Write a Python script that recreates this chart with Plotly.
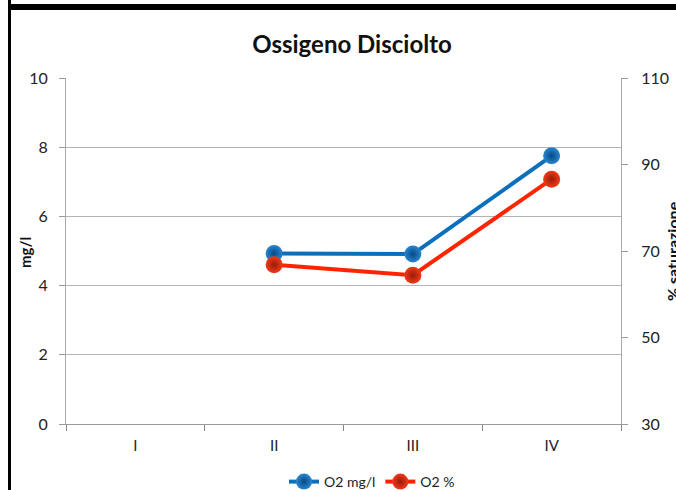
import plotly.graph_objects as go

categories = ["I", "II", "III", "IV"]
o2_mgl = [None, 4.93, 4.91, 7.75]
o2_pct = [None, 66.8, 64.4, 86.6]
left_ticks = [0, 2, 4, 6, 8, 10]
right_ticks = [30, 50, 70, 90, 110]

W, H = 676, 490
L, R, T, B = 66, 55, 78, 66
pw, ph = W - L - R, H - T - B

def px(x):
    return (x - L) / pw

def py(y):
    return (H - B - y) / ph

font = "Lato, 'Open Sans', sans-serif"

fig = go.Figure()
fig.add_trace(go.Scatter(
    x=categories, y=o2_mgl, name="O2 mg/l", mode="lines+markers",
    line=dict(color="#0a70bd", width=4),
    marker=dict(size=17, color="#2a86cf",
                gradient=dict(type="radial", color="#064a85"),
                line=dict(width=0)),
    yaxis="y", connectgaps=False,
))
fig.add_trace(go.Scatter(
    x=categories, y=o2_pct, name="O2 %", mode="lines+markers",
    line=dict(color="#ff2400", width=4),
    marker=dict(size=17, color="#f03a1a",
                gradient=dict(type="radial", color="#9a1c08"),
                line=dict(width=0)),
    yaxis="y2", connectgaps=False,
))

fig.update_layout(
    width=W, height=H,
    margin=dict(l=L, r=R, t=T, b=B, autoexpand=False),
    paper_bgcolor="white", plot_bgcolor="white",
    font=dict(family=font, color="#222", size=15),
    title=dict(text="<b>Ossigeno Disciolto</b>", x=px(355), xanchor="center",
               y=1 - 45 / H, yanchor="middle",
               font=dict(size=24, color="#111", family=font)),
    xaxis=dict(type="category", categoryorder="array", categoryarray=categories,
               range=[-0.5, 3.5], tickson="boundaries", ticks="outside",
               ticklen=6, tickcolor="#888", showline=True, linecolor="#999",
               linewidth=1, showgrid=False, tickfont=dict(size=15), fixedrange=True,
               automargin=False, ticklabelstandoff=8),
    yaxis=dict(range=[0, 10], tickvals=left_ticks, ticks="outside", ticklen=6,
               tickcolor="#999", showline=True, linecolor="#aaa", linewidth=1,
               showgrid=True, gridcolor="#b4b4b4", gridwidth=1, zeroline=False,
               tickfont=dict(size=16), automargin=False, ticklabelstandoff=8),
    yaxis2=dict(range=[30, 110], tickvals=right_ticks, overlaying="y", side="right",
                ticks="outside", ticklen=6, tickcolor="#999", showline=True,
                linecolor="#aaa", linewidth=1, showgrid=False, zeroline=False,
                tickfont=dict(size=16), automargin=False, ticklabelstandoff=10),
    legend=dict(orientation="h", x=px(372), xanchor="center", y=py(482),
                yanchor="middle", font=dict(size=14), itemwidth=30,
                bgcolor="rgba(0,0,0,0)"),
    showlegend=True,
)

# axis titles
fig.add_annotation(text="<b>mg/l</b>", xref="paper", yref="paper",
                   x=px(25), y=py(253), xanchor="center", yanchor="middle",
                   textangle=-90, showarrow=False, font=dict(size=15, color="#111"))
fig.add_annotation(text="<b>% saturazione</b>", xref="paper", yref="paper",
                   x=px(672), y=py(251), xanchor="center", yanchor="middle",
                   textangle=-90, showarrow=False, font=dict(size=16, color="#111"))

# black frame edges (top and left)
fig.add_shape(type="rect", xref="paper", yref="paper",
              x0=px(10), x1=px(W + 5), y0=py(10), y1=py(4),
              fillcolor="black", line=dict(width=0), layer="above")
fig.add_shape(type="rect", xref="paper", yref="paper",
              x0=px(8), x1=px(11), y0=py(H + 5), y1=py(0),
              fillcolor="black", line=dict(width=0), layer="above")

fig.write_html("out.html", config={"displayModeBar": False},
               post_script="document.body.style.margin='0';document.body.style.overflow='hidden';")
